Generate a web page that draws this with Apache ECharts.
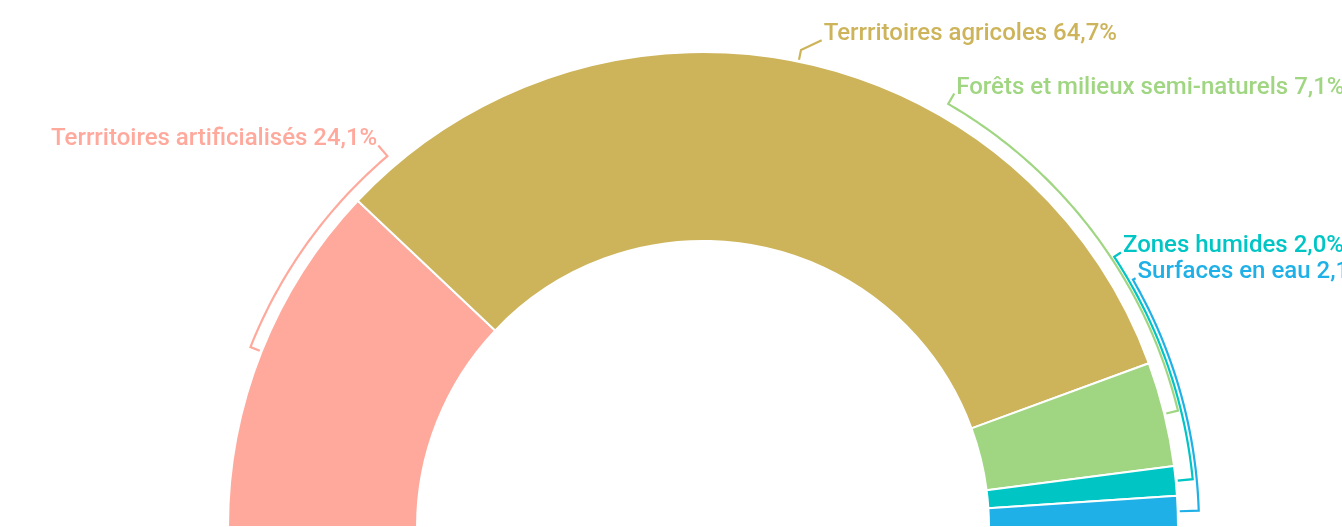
<!DOCTYPE html>
<html>
<head>
<meta charset="utf-8">
<script src="https://cdn.jsdelivr.net/npm/echarts@6/dist/echarts.min.js"></script>
<style>
	html, body { margin: 0; padding: 0; background: #fff; }
	#chart-container { width: 1342px; height: 527px; }
</style>
</head>
<body>
<div id="chart-container"></div>
<script>
// Data
const categories = ['Terrritoires artificialisés', 'Terrritoires agricoles', 'Forêts et milieux semi-naturels', 'Zones humides', 'Surfaces en eau'];
const shares = [24.1, 64.7, 7.1, 2.0, 2.1];
const colors = ['#ffa99d', '#cdb45a', '#a0d682', '#00c5c5', '#1eb0e6'];

// Label placement: angle of each label (deg, from 3 o'clock, counter-clockwise)
// and how far the bracket / label sit outside the ring
const labelAngles = [130.4, 76.3, 59.9, 33.3, 29.9];
const bracketGap = [12, 12, 14, 17, 21];
const labelGap = [26, 26, 26, 25, 24];

const CX = 703, CY = 527, R_IN = 286, R_OUT = 475;

const total = shares.reduce((a, b) => a + b, 0);
const midAngles = [];
let acc = 0;
shares.forEach(v => {
	midAngles.push(180 - (acc + v / 2) / total * 180);
	acc += v;
});

function polar(r, deg) {
	const a = deg * Math.PI / 180;
	return [CX + r * Math.cos(a), CY - r * Math.sin(a)];
}

// bracket shaped label line: tick out of the slice, arc along the ring, tick to the label
function bracketLayout(params) {
	const i = params.dataIndex;
	const mid = midAngles[i];
	const la = labelAngles[i];
	const rb = R_OUT + bracketGap[i];
	const pts = [polar(R_OUT + 2, mid), polar(rb, mid)];
	if (Math.abs(la - mid) > 5) {
		const steps = Math.ceil(Math.abs(la - mid) / 0.5);
		for (let k = 1; k <= steps; k++) {
			pts.push(polar(rb, mid + (la - mid) * k / steps));
		}
	}
	const end = polar(R_OUT + labelGap[i], la);
	pts.push(end);
	const left = la > 90;
	return {
		x: end[0] + (left ? -1 : 2),
		y: end[1] - 6,
		align: left ? 'right' : 'left',
		verticalAlign: 'middle',
		labelLinePoints: pts
	};
}

const chart = echarts.init(document.getElementById('chart-container'));

const option = {
	animation: false,
	backgroundColor: '#fff',
	series: [{
		type: 'pie',
		center: [CX, CY],
		radius: [R_IN, R_OUT],
		startAngle: 180,
		endAngle: 0,
		clockwise: true,
		avoidLabelOverlap: false,
		itemStyle: { borderColor: '#fff', borderWidth: 2 },
		label: {
			show: true,
			fontFamily: 'Roboto',
			fontSize: 24,
			fontWeight: 500,
			overflow: 'none',
			formatter: function (p) {
				return p.name + ' ' + p.value.toFixed(1).replace('.', ',') + '%';
			}
		},
		labelLine: { show: true, lineStyle: { width: 2.2 } },
		labelLayout: bracketLayout,
		emphasis: { disabled: true },
		data: categories.map((name, i) => ({
			name: name,
			value: shares[i],
			itemStyle: { color: colors[i] },
			label: { color: colors[i] }
		}))
	}]
};

chart.setOption(option);
</script>
</body>
</html>
